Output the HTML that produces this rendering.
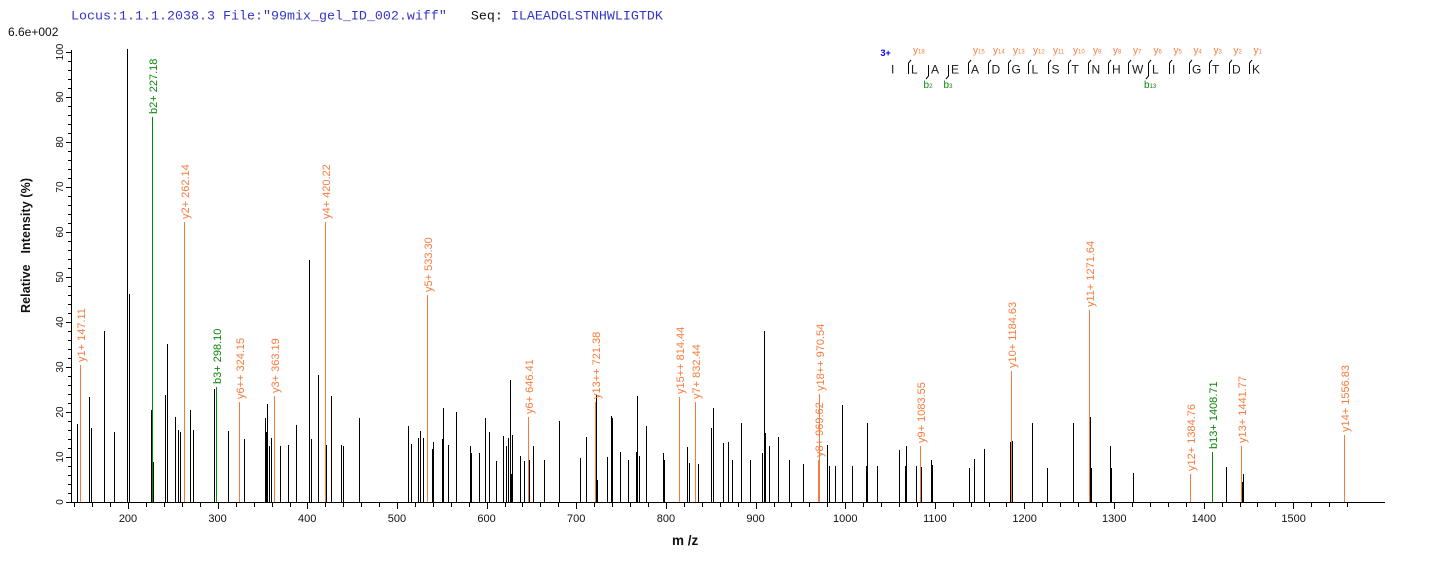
<!DOCTYPE html>
<html><head><meta charset="utf-8"><style>
html,body{margin:0;padding:0;background:#fff;}
svg{display:block;}
text{font-family:"Liberation Sans",Arial,sans-serif;}
text.mono{font-family:"Liberation Mono","Courier New",monospace;}
</style></head><body>
<svg width="1436" height="562" viewBox="0 0 1436 562" xmlns="http://www.w3.org/2000/svg">
<rect width="1436" height="562" fill="#fff"/>
<!-- header -->
<text class="mono" x="71" y="19.5" style="font-family:'Liberation Mono','Courier New',monospace;font-size:13.33px" fill="#3535c8">Locus:1.1.1.2038.3 File:"99mix_gel_ID_002.wiff"&#160;&#160;&#160;<tspan fill="#111">Seq:</tspan> ILAEADGLSTNHWLIGTDK</text>
<text x="8" y="36" font-size="12" fill="#111">6.6e+002</text>

<!-- black peaks -->
<path stroke="#000" stroke-width="1" shape-rendering="crispEdges" fill="none" d="
M77.5 502V424M89.5 502V397M91.5 502V428M104.5 502V331M114.5 502V432M127.5 502V49M129.5 502V294
M151.5 502V410M153.5 502V462M165.5 502V395M167.5 502V344M175.5 502V417M178.5 502V430M180.5 502V432
M190.5 502V410M193.5 502V430M214.5 502V389M228.5 502V431M244.5 502V439M265.5 502V418M266.5 502V432
M267.5 502V404M269.5 502V446M271.5 502V438M280.5 502V446M288.5 502V445M296.5 502V425M309.5 502V260
M311.5 502V439M318.5 502V375M326.5 502V445M331.5 502V396M341.5 502V445M343.5 502V446M359.5 502V418
M408.5 502V426M411.5 502V444M418.5 502V438M420.5 502V431M423.5 502V438M432.5 502V449M433.5 502V442
M442.5 502V439M443.5 502V408M448.5 502V445M456.5 502V412M470.5 502V446M471.5 502V453M479.5 502V453
M485.5 502V418M489.5 502V432M496.5 502V461M503.5 502V436M506.5 502V446M508.5 502V438M510.5 502V380
M511.5 502V474M512.5 502V435M520.5 502V456M524.5 502V461M529.5 502V460M533.5 502V446M544.5 502V460
M559.5 502V421M580.5 502V458M586.5 502V437M596.5 502V395M597.5 502V480M607.5 502V457M611.5 502V416
M612.5 502V418M620.5 502V452M628.5 502V460M636.5 502V452M637.5 502V396M639.5 502V456M646.5 502V426
M663.5 502V453M664.5 502V460M687.5 502V447M689.5 502V463M698.5 502V464M711.5 502V428M713.5 502V408
M723.5 502V443M728.5 502V442M732.5 502V460M741.5 502V423M750.5 502V460M762.5 502V453M764.5 502V331
M765.5 502V433M769.5 502V446M778.5 502V437M789.5 502V460M803.5 502V464M827.5 502V445M829.5 502V466
M835.5 502V466M842.5 502V405M852.5 502V466M866.5 502V466M867.5 502V423M877.5 502V466M899.5 502V450
M905.5 502V466M906.5 502V446M916.5 502V466M921.5 502V467M931.5 502V460M932.5 502V465M969.5 502V468
M974.5 502V459M984.5 502V449M1010.5 502V442M1012.5 502V441M1032.5 502V423M1047.5 502V468M1073.5 502V423
M1090.5 502V417M1091.5 502V468M1110.5 502V446M1111.5 502V468M1133.5 502V473M1226.5 502V467M1242.5 502V482
M1243.5 502V474"/>

<!-- orange peaks -->
<path stroke="#f77b3c" stroke-width="1" shape-rendering="crispEdges" fill="none" d="
M80.5 502V365M184.5 502V222M239.5 502V402M274.5 502V396M325.5 502V222M427.5 502V295M528.5 502V417
M595.5 502V402M679.5 502V397M695.5 502V402M818.5 502V460M819.5 502V394M920.5 502V446M1011.5 502V371
M1089.5 502V310M1190.5 502V474M1241.5 502V446M1344.5 502V435"/>
<!-- green peaks -->
<path stroke="#0b870b" stroke-width="1" shape-rendering="crispEdges" fill="none" d="
M152.5 502V117M216.5 502V387M1212.5 502V452"/>

<!-- peak labels -->
<g font-size="11" fill="#f77b3c">
<text transform="translate(85,362) rotate(-90)">y1+ 147.11</text>
<text transform="translate(189,219) rotate(-90)">y2+ 262.14</text>
<text transform="translate(244,399) rotate(-90)">y6++ 324.15</text>
<text transform="translate(279,393) rotate(-90)">y3+ 363.19</text>
<text transform="translate(330,219) rotate(-90)">y4+ 420.22</text>
<text transform="translate(432,292) rotate(-90)">y5+ 533.30</text>
<text transform="translate(533,414) rotate(-90)">y6+ 646.41</text>
<text transform="translate(600,399) rotate(-90)">y13++ 721.38</text>
<text transform="translate(684,394) rotate(-90)">y15++ 814.44</text>
<text transform="translate(700,399) rotate(-90)">y7+ 832.44</text>
<text transform="translate(823,457) rotate(-90)">y8+ 969.62</text>
<text transform="translate(824,391) rotate(-90)">y18++ 970.54</text>
<text transform="translate(925,443) rotate(-90)">y9+ 1083.55</text>
<text transform="translate(1016,368) rotate(-90)">y10+ 1184.63</text>
<text transform="translate(1094,307) rotate(-90)">y11+ 1271.64</text>
<text transform="translate(1195,471) rotate(-90)">y12+ 1384.76</text>
<text transform="translate(1246,443) rotate(-90)">y13+ 1441.77</text>
<text transform="translate(1349,432) rotate(-90)">y14+ 1556.83</text>
</g>
<g font-size="11" fill="#0b870b">
<text transform="translate(157,114) rotate(-90)">b2+ 227.18</text>
<text transform="translate(221,384) rotate(-90)">b3+ 298.10</text>
<text transform="translate(1217,449) rotate(-90)">b13+ 1408.71</text>
</g>

<!-- axes -->
<path stroke="#000" stroke-width="1" shape-rendering="crispEdges" fill="none" d="M71.5 50V503M71 502.5H1385"/>
<!-- y ticks -->
<path stroke="#000" stroke-width="1" shape-rendering="crispEdges" fill="none" d="
M66 502.5H71M68 493.5H71M68 484.5H71M68 475.5H71M68 466.5H71M66 457.5H71M68 448.5H71M68 439.5H71M68 430.5H71M68 421.5H71
M66 412.5H71M68 403.5H71M68 394.5H71M68 385.5H71M68 376.5H71M66 367.5H71M68 358.5H71M68 349.5H71M68 340.5H71M68 331.5H71
M66 322.5H71M68 313.5H71M68 304.5H71M68 295.5H71M68 286.5H71M66 277.5H71M68 268.5H71M68 259.5H71M68 250.5H71M68 241.5H71
M66 232.5H71M68 223.5H71M68 214.5H71M68 205.5H71M68 196.5H71M66 187.5H71M68 178.5H71M68 169.5H71M68 160.5H71M68 151.5H71
M66 142.5H71M68 133.5H71M68 124.5H71M68 115.5H71M68 106.5H71M66 97.5H71M68 88.5H71M68 79.5H71M68 70.5H71M68 61.5H71M66 52.5H71"/>
<g font-size="10" fill="#111" text-anchor="middle">
<text transform="translate(63,502) rotate(-90)">0</text>
<text transform="translate(63,457) rotate(-90)">10</text>
<text transform="translate(63,412) rotate(-90)">20</text>
<text transform="translate(63,367) rotate(-90)">30</text>
<text transform="translate(63,322) rotate(-90)">40</text>
<text transform="translate(63,277) rotate(-90)">50</text>
<text transform="translate(63,232) rotate(-90)">60</text>
<text transform="translate(63,187) rotate(-90)">70</text>
<text transform="translate(63,142) rotate(-90)">80</text>
<text transform="translate(63,97) rotate(-90)">90</text>
<text transform="translate(63,52) rotate(-90)">100</text>
</g>
<text transform="translate(30,245.5) rotate(-90)" font-size="12.5" font-weight="bold" fill="#111" text-anchor="middle" textLength="135" lengthAdjust="spacing">Relative&#160;&#160;&#160;Intensity (%)</text>

<!-- x ticks -->
<path stroke="#000" stroke-width="1" shape-rendering="crispEdges" fill="none" d="
M74.5 502V507M92.5 502V507M110.5 502V507M128.5 502V509M146.5 502V507M164.5 502V507M182.5 502V507M200.5 502V507
M218.5 502V509M236.5 502V507M254.5 502V507M272.5 502V507M290.5 502V507M307.5 502V509M325.5 502V507M343.5 502V507
M361.5 502V507M379.5 502V507M397.5 502V509M415.5 502V507M433.5 502V507M451.5 502V507M469.5 502V507M487.5 502V509
M505.5 502V507M522.5 502V507M540.5 502V507M558.5 502V507M576.5 502V509M594.5 502V507M612.5 502V507M630.5 502V507
M648.5 502V507M666.5 502V509M684.5 502V507M702.5 502V507M720.5 502V507M738.5 502V507M756.5 502V509M774.5 502V507
M791.5 502V507M809.5 502V507M827.5 502V507M845.5 502V509M863.5 502V507M881.5 502V507M899.5 502V507M917.5 502V507
M935.5 502V509M953.5 502V507M971.5 502V507M989.5 502V507M1006.5 502V507M1024.5 502V509M1042.5 502V507M1060.5 502V507
M1078.5 502V507M1096.5 502V507M1114.5 502V509M1132.5 502V507M1150.5 502V507M1168.5 502V507M1186.5 502V507M1204.5 502V509
M1222.5 502V507M1240.5 502V507M1257.5 502V507M1275.5 502V507M1293.5 502V509M1311.5 502V507M1329.5 502V507M1347.5 502V507"/>
<g font-size="11" fill="#111" text-anchor="middle">
<text x="128" y="522">200</text>
<text x="217.6" y="522">300</text>
<text x="307.2" y="522">400</text>
<text x="396.9" y="522">500</text>
<text x="486.6" y="522">600</text>
<text x="576.2" y="522">700</text>
<text x="665.9" y="522">800</text>
<text x="755.6" y="522">900</text>
<text x="845.3" y="522">1000</text>
<text x="934.9" y="522">1100</text>
<text x="1024.6" y="522">1200</text>
<text x="1114.3" y="522">1300</text>
<text x="1203.9" y="522">1400</text>
<text x="1293.6" y="522">1500</text>
</g>
<text x="672" y="545" font-size="13.5" font-weight="bold" fill="#111">m /z</text>

<!-- sequence annotation -->
<text x="880.5" y="56" font-size="9" font-weight="bold" fill="#0000ee">3+</text>
<g font-size="12" fill="#1a1a1a">
<text x="891" y="73.5">I</text>
<text x="911" y="73.5">L</text>
<text x="931" y="73.5">A</text>
<text x="951" y="73.5">E</text>
<text x="971" y="73.5">A</text>
<text x="991.5" y="73.5">D</text>
<text x="1011.5" y="73.5">G</text>
<text x="1031.5" y="73.5">L</text>
<text x="1051.5" y="73.5">S</text>
<text x="1071.5" y="73.5">T</text>
<text x="1091.5" y="73.5">N</text>
<text x="1112" y="73.5">H</text>
<text x="1132" y="73.5">W</text>
<text x="1152" y="73.5">L</text>
<text x="1172" y="73.5">I</text>
<text x="1192" y="73.5">G</text>
<text x="1212" y="73.5">T</text>
<text x="1232" y="73.5">D</text>
<text x="1252" y="73.5">K</text>
</g>
<g stroke="#000" stroke-width="1" fill="none">
<polyline points="908.5,74 908.5,63 911,60"/>
<polyline points="968.5,74 968.5,63 971,60"/>
<polyline points="988.5,74 988.5,63 991,60"/>
<polyline points="1008.5,74 1008.5,63 1011,60"/>
<polyline points="1028.5,74 1028.5,63 1031,60"/>
<polyline points="1048.5,74 1048.5,63 1051,60"/>
<polyline points="1068.5,74 1068.5,63 1071,60"/>
<polyline points="1088.5,74 1088.5,63 1091,60"/>
<polyline points="1108.5,74 1108.5,63 1111,60"/>
<polyline points="1128.5,74 1128.5,63 1131,60"/>
<polyline points="1148.5,74 1148.5,63 1151,60"/>
<polyline points="1169.5,74 1169.5,63 1172,60"/>
<polyline points="1189.5,74 1189.5,63 1192,60"/>
<polyline points="1209.5,74 1209.5,63 1212,60"/>
<polyline points="1229.5,74 1229.5,63 1232,60"/>
<polyline points="1249.5,74 1249.5,63 1252,60"/>
<polyline points="928.5,65 928.5,76 926,79"/>
<polyline points="948.5,65 948.5,76 946,79"/>
<polyline points="1148.5,65 1148.5,76 1146,79"/>
</g>
<g font-size="10" fill="#f77b3c">
<text x="913" y="53.5">y<tspan font-size="6">18</tspan></text>
<text x="973" y="53.5">y<tspan font-size="6">15</tspan></text>
<text x="993" y="53.5">y<tspan font-size="6">14</tspan></text>
<text x="1013" y="53.5">y<tspan font-size="6">13</tspan></text>
<text x="1033" y="53.5">y<tspan font-size="6">12</tspan></text>
<text x="1053" y="53.5">y<tspan font-size="6">11</tspan></text>
<text x="1073" y="53.5">y<tspan font-size="6">10</tspan></text>
<text x="1093" y="53.5">y<tspan font-size="6">9</tspan></text>
<text x="1113" y="53.5">y<tspan font-size="6">8</tspan></text>
<text x="1133" y="53.5">y<tspan font-size="6">7</tspan></text>
<text x="1153.5" y="53.5">y<tspan font-size="6">6</tspan></text>
<text x="1173.5" y="53.5">y<tspan font-size="6">5</tspan></text>
<text x="1193.5" y="53.5">y<tspan font-size="6">4</tspan></text>
<text x="1213.5" y="53.5">y<tspan font-size="6">3</tspan></text>
<text x="1233.5" y="53.5">y<tspan font-size="6">2</tspan></text>
<text x="1253.5" y="53.5">y<tspan font-size="6">1</tspan></text>
</g>
<g font-size="10" fill="#0b870b">
<text x="923.5" y="88">b<tspan font-size="6">2</tspan></text>
<text x="943.5" y="88">b<tspan font-size="6">3</tspan></text>
<text x="1144" y="88">b<tspan font-size="6">13</tspan></text>
</g>
</svg>
</body></html>
